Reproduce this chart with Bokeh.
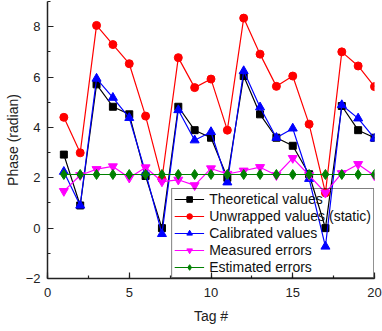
from bokeh.plotting import figure
from bokeh.models import Range1d, SingleIntervalTicker, Legend
from bokeh.embed import file_html
from bokeh.resources import INLINE

tags = list(range(1, 21))
theoretical = [2.92, 0.90, 5.71, 4.82, 4.52, 2.07, 0.00, 4.82, 3.89, 3.59,
               2.00, 6.04, 4.52, 3.59, 3.27, 2.14, 0.00, 4.85, 3.89, 3.59]
unwrapped = [4.40, 2.99, 8.05, 7.29, 6.53, 4.45, 1.95, 6.77, 5.58, 5.92,
             3.89, 8.34, 6.91, 5.63, 6.04, 4.13, 1.40, 7.00, 6.44, 5.62]
calibrated = [2.24, 0.90, 5.94, 5.18, 4.38, 2.20, -0.23, 4.69, 3.49, 3.82,
              1.82, 6.24, 4.80, 3.59, 3.96, 1.96, -0.73, 4.89, 4.36, 3.56]
measured = [1.47, 2.10, 2.34, 2.45, 2.00, 2.41, 1.85, 1.92, 1.70, 2.37,
            2.15, 2.28, 2.42, 2.10, 2.78, 2.10, 1.40, 2.18, 2.54, 2.08]
estimated = [2.13, 2.13, 2.13, 2.13, 2.13, 2.13, 2.13, 2.13, 2.13, 2.13,
             2.13, 2.13, 2.13, 2.13, 2.13, 2.13, 2.13, 2.13, 2.13, 2.13]

labels = ["Theoretical values", "Unwrapped values (static)", "Calibrated values",
          "Measured errors", "Estimated errors"]

FONT = "Liberation Sans"

p = figure(width=382, height=331, output_backend="svg", toolbar_location=None,
           x_range=Range1d(0, 20), y_range=Range1d(-2, 9),
           min_border_left=47, min_border_right=8, min_border_top=1, min_border_bottom=53)
p.outline_line_color = None
p.grid.visible = False
p.background_fill_color = "white"

series = [
    (theoretical, "black", "square", 7),
    (unwrapped, "#FF0000", "circle", 8),
    (calibrated, "#0000FF", "triangle", 9),
    (measured, "#FF00FF", "inverted_triangle", 9),
    (estimated, "#008000", "diamond", 10),
]

items = []
for (ys, col, mk, sz), lab in zip(series, labels):
    r1 = p.line(tags, ys, line_color=col, line_width=1.2)
    r2 = p.scatter(tags, ys, marker=mk, size=sz, fill_color=col, line_color=col)
    items.append((lab, [r1, r2]))

legend = Legend(items=items, location="bottom_right", margin=0, padding=2, spacing=1,
                glyph_width=30, glyph_height=14, label_height=14, label_standoff=5,
                label_text_font=FONT, label_text_font_size="14px", label_text_color="#111",
                border_line_color="black", border_line_width=1,
                background_fill_alpha=0)
p.add_layout(legend, "center")

p.xaxis.ticker = SingleIntervalTicker(interval=5, num_minor_ticks=2)
p.yaxis.ticker = SingleIntervalTicker(interval=2, num_minor_ticks=2)

for ax in (p.xaxis, p.yaxis):
    ax.axis_line_color = "#222"
    ax.axis_line_width = 1.5
    ax.major_tick_line_color = "#222"
    ax.minor_tick_line_color = "#222"
    ax.major_tick_line_width = 1.2
    ax.minor_tick_line_width = 1.2
    ax.major_tick_in = 6
    ax.major_tick_out = 0
    ax.minor_tick_in = 3
    ax.minor_tick_out = 0
    ax.major_label_text_font = FONT
    ax.major_label_text_font_size = "13px"
    ax.major_label_text_color = "#222"
    ax.axis_label_text_font = FONT
    ax.axis_label_text_font_size = "14px"
    ax.axis_label_text_font_style = "normal"
    ax.axis_label_text_color = "#222"

p.xaxis.axis_label = "Tag #"
p.yaxis.axis_label = "Phase (radian)"
p.xaxis.major_label_standoff = 9
p.xaxis.axis_label_standoff = 8
p.yaxis.major_label_standoff = 7
p.yaxis.axis_label_standoff = 2

open("out.html", "w").write(file_html(p, INLINE))
